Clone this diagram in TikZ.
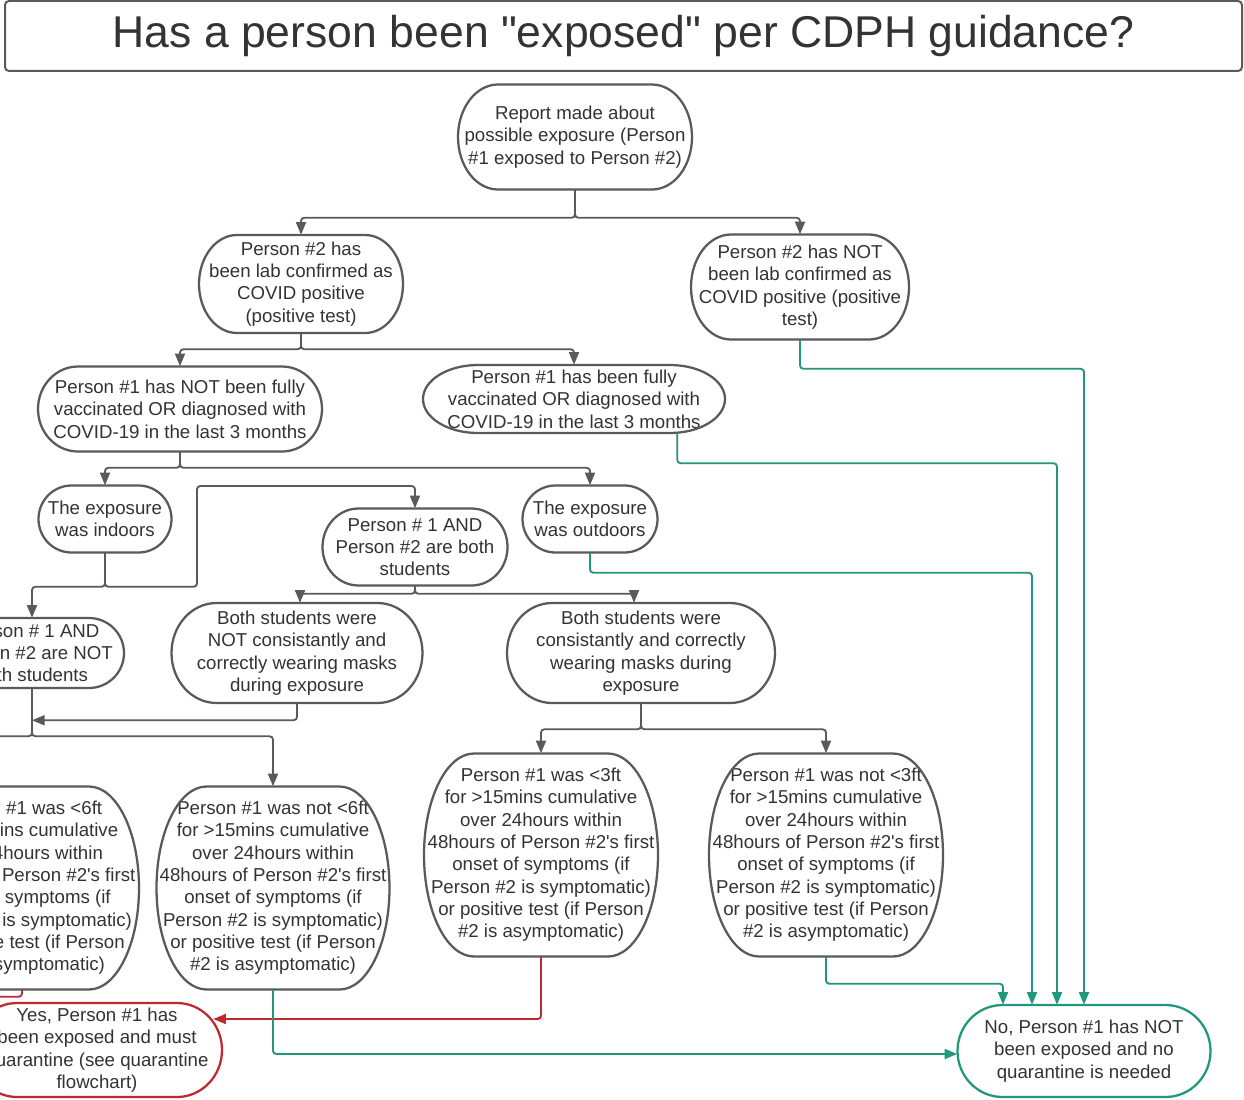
\documentclass[tikz,border=0pt]{standalone}
\usepackage{fontspec}
\setmainfont{Liberation Sans}[Ligatures=TeXOff]
\usetikzlibrary{arrows.meta,calc}
\definecolor{lg}{HTML}{5A5A5A}
\definecolor{tg}{HTML}{333333}
\definecolor{teal1}{HTML}{21977D}
\definecolor{red1}{HTML}{BE2A30}
\newcommand{\ap}{'}
\newcommand{\dq}{"}
\tikzset{
  txt/.style={align=center, text=tg, inner sep=0pt, font=\fontsize{14}{16.75}\selectfont},
  box/.style={draw=lg, line width=1.7pt},
  conn/.style={draw=lg, line width=1.4pt, rounded corners=2.5pt},
  arr/.style={conn, -{Triangle[length=9.5pt,width=7.5pt]}},
  arrT/.style={arr, draw=teal1},
  arrR/.style={arr, draw=red1},
}
\newcommand{\tbox}[8]{%
  \node[txt, minimum width=#4*0.75pt, minimum height=#5*0.75pt] (#1) at (#2,-#3) {#8};
  \draw[box, #7] ({#2-#4/2+#6},{-#3+#5/2}) -- ({#2+#4/2-#6},{-#3+#5/2})
    arc[start angle=90,end angle=-90,x radius={#6*0.75pt},y radius={#5*0.375pt}]
    -- ({#2-#4/2+#6},{-#3-#5/2})
    arc[start angle=270,end angle=90,x radius={#6*0.75pt},y radius={#5*0.375pt}] -- cycle;
}
\begin{document}
\begin{tikzpicture}[x=0.75pt,y=0.75pt]
\useasboundingbox (0,0) rectangle (1244,-1099);
\fill[white] (0,0) rectangle (1244,-1099);
\clip (0,0) rectangle (1244,-1099);

% title
\node[draw=lg, line width=1.5pt, rounded corners=3pt, minimum width=1237*0.75pt,
      minimum height=70*0.75pt, text=tg, font=\fontsize{33.4}{40}\selectfont, inner sep=0pt]
  (title) at (623.5,-36) {Has a person been \dq exposed\dq\ per CDPH guidance?};

% boxes
\tbox{rep}{575}{137}{234}{105}{40}{}{Report made about\\possible exposure (Person\\\#1 exposed to Person \#2)}
\tbox{ppos}{301}{284}{204}{98}{38}{}{Person \#2 has\\been lab confirmed as\\COVID positive\\(positive test)}
\tbox{pneg}{800}{287}{218}{105}{40}{}{Person \#2 has NOT\\been lab confirmed as\\COVID positive (positive\\test)}
\tbox{unvax}{180}{409}{284}{85}{40}{}{Person \#1 has NOT been fully\\vaccinated OR diagnosed with\\COVID-19 in the last 3 months}
\tbox{vax}{574}{399}{302}{68}{55}{}{Person \#1 has been fully\\vaccinated OR diagnosed with\\COVID-19 in the last 3 months}
\tbox{indoor}{105}{519}{133}{67}{33}{}{The exposure\\was indoors}
\tbox{outdoor}{590}{519}{135}{67}{33}{}{The exposure\\was outdoors}
\tbox{stud}{415}{547}{185}{77}{36}{}{Person \# 1 AND\\Person \#2 are both\\students}
\tbox{nstud}{32}{653}{184}{70}{35}{}{Person \# 1 AND\\Person \#2 are NOT\\both students}
\tbox{nmask}{297}{653}{251}{100}{45}{}{Both students were\\NOT consistantly and\\correctly wearing masks\\during exposure}
\tbox{mask}{641}{653}{268}{100}{45}{}{Both students were\\consistantly and correctly\\wearing masks during\\exposure}
\tbox{ltsix}{22}{888}{234}{203}{50}{}{Person \#1 was <6ft\\for >15mins cumulative\\over 24hours within\\48hours of Person \#2\ap s first\\onset of symptoms (if\\Person \#2 is symptomatic)\\or positive test (if Person\\\#2 is asymptomatic)}
\tbox{nltsix}{273}{888}{233}{203}{50}{}{Person \#1 was not <6ft\\for >15mins cumulative\\over 24hours within\\48hours of Person \#2\ap s first\\onset of symptoms (if\\Person \#2 is symptomatic)\\or positive test (if Person\\\#2 is asymptomatic)}
\tbox{ltthree}{541}{855}{234}{203}{50}{}{Person \#1 was <3ft\\for >15mins cumulative\\over 24hours within\\48hours of Person \#2\ap s first\\onset of symptoms (if\\Person \#2 is symptomatic)\\or positive test (if Person\\\#2 is asymptomatic)}
\tbox{nltthree}{826}{855}{234}{203}{50}{}{Person \#1 was not <3ft\\for >15mins cumulative\\over 24hours within\\48hours of Person \#2\ap s first\\onset of symptoms (if\\Person \#2 is symptomatic)\\or positive test (if Person\\\#2 is asymptomatic)}
\tbox{yes}{97}{1050}{250}{94}{45}{draw=red1}{Yes, Person \#1 has\\been exposed and must\\quarantine (see quarantine\\flowchart)}
\tbox{no}{1084}{1051}{253}{92}{45}{draw=teal1}{No, Person \#1 has NOT\\been exposed and no\\quarantine is needed}

% gray connectors
\draw[arr] (rep.south) -- ++(0,-28) -| (ppos.north);
\draw[arr] (rep.south) -- ++(0,-28) -| (pneg.north);
\draw[arr] (ppos.south) -- ++(0,-16) -| (unvax.north);
\draw[arr] (ppos.south) -- ++(0,-16) -| (vax.north);
\draw[arr] (unvax.south) -- ++(0,-16) -| (indoor.north);
\draw[arr] (unvax.south) -- ++(0,-16) -| (outdoor.north);
\coordinate (up) at (197,-486);
\draw[arr] (indoor.south) -- ++(0,-34) -| (up) -| (stud.north);
\draw[arr] (indoor.south) -- ++(0,-34) -| (nstud.north);
\draw[arr] (stud.south) -- ++(0,-8) -| ($(nmask.north)+(3,0)$);
\draw[arr] (stud.south) -- ++(0,-8) -| ($(mask.north)+(-7,0)$);
\draw[arr] (nmask.south) |- ($(nstud.south)+(0,-32)$);
\draw[conn] (nstud.south) -- ++(0,-48) -| ($(ltsix.north)+(-45,0)$);
\draw[arr] (nstud.south) -- ++(0,-48) -| (nltsix.north);
\draw[arr] (mask.south) -- ++(0,-26) -| (ltthree.north);
\draw[arr] (mask.south) -- ++(0,-26) -| (nltthree.north);

% red connectors
\draw[arrR] (ltthree.south) |- ($(yes.east)+(-9,31)$);
\draw[arrR] (ltsix.south) -- ++(0,-7) -- ++(-90,0) |- (yes.west);

% teal connectors
\draw[arrT] (nltsix.south) |- ($(no.west)+(0,-3)$);
\draw[arrT] (nltthree.south) -- ++(0,-27) -| ($(no.north)+(-81,0)$);
\draw[arrT] (outdoor.south) -- ++(0,-20) -| ($(no.north)+(-52,0)$);
\draw[arrT] ($(vax.south east)+(-48,0)$) -- ++(0,-30) -| ($(no.north)+(-27,0)$);
\draw[arrT] (pneg.south) -- ++(0,-29) -| (no.north);
\end{tikzpicture}
\end{document}
